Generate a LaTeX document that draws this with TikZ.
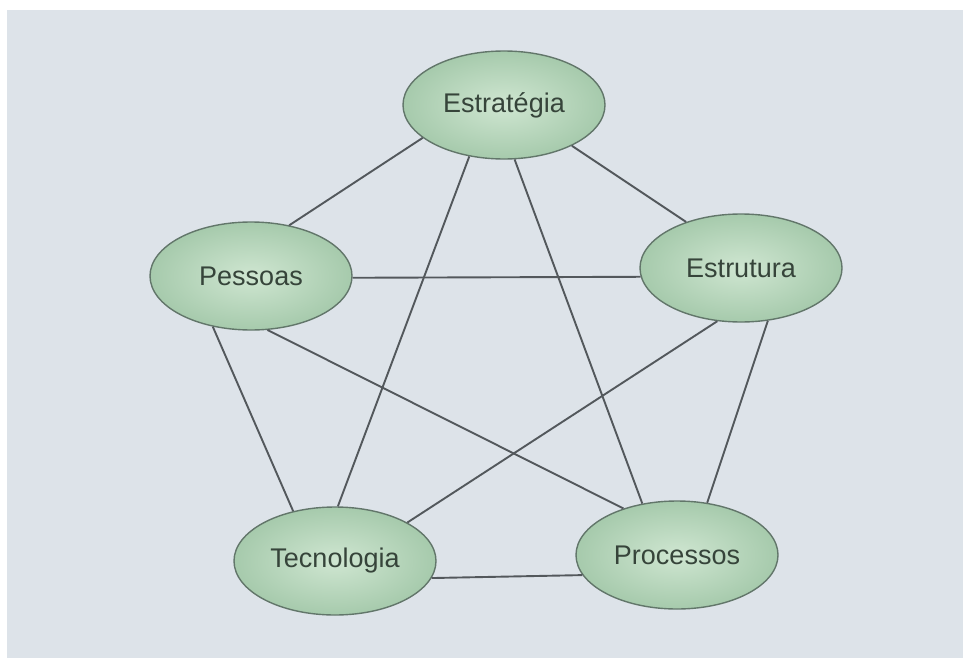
\documentclass[tikz,border=0pt]{standalone}
\usepackage{fontspec}
\setmainfont{Liberation Sans}
\usetikzlibrary{shapes.geometric}
\definecolor{panel}{HTML}{DDE3E9}
\definecolor{blobin}{HTML}{CFE6D1}
\definecolor{blobout}{HTML}{A6CAAC}
\definecolor{blobline}{HTML}{62766A}
\definecolor{blobtext}{HTML}{36443A}
\definecolor{linkline}{HTML}{53585C}
\tikzset{
  blob/.style={ellipse, minimum width=202pt, minimum height=108pt, inner sep=0pt,
    inner color=blobin, outer color=blobout, draw=blobline, line width=1.4pt,
    text=blobtext, font=\fontsize{27}{32}\selectfont},
  link/.style={draw=linkline, line width=1.9pt}
}
\begin{document}
\begin{tikzpicture}[x=1pt, y=-1pt]
  \useasboundingbox (0,0) rectangle (963,661);
  \fill[white] (0,0) rectangle (963,661);
  \fill[panel] (7,10) rectangle (963,658);

  % the five themes
  \node[blob] (est) at (504,105) {Estratégia};
  \node[blob] (pes) at (251,276) {Pessoas};
  \node[blob] (etr) at (741,268) {Estrutura};
  \node[blob] (tec) at (335,561) {Tecnologia};
  \node[blob] (pro) at (677,555) {Processos};

  % every theme linked to every other
  \draw[link] (est.202) -- (pes.53);
  \draw[link] (est.329) -- (etr.140);
  \draw[link] (est.236) -- (tec.87);
  \draw[link] (est.281) -- (pro.124);
  \draw[link] (pes.359) -- (etr.185);
  \draw[link] (pes.233) -- (tec.130);
  \draw[link] (pes.287) -- (pro.139);
  \draw[link] (etr.246) -- (tec.28);
  \draw[link] (etr.297) -- (pro.60);
  \draw[link] (tec.350) -- (pro.192);
\end{tikzpicture}
\end{document}
